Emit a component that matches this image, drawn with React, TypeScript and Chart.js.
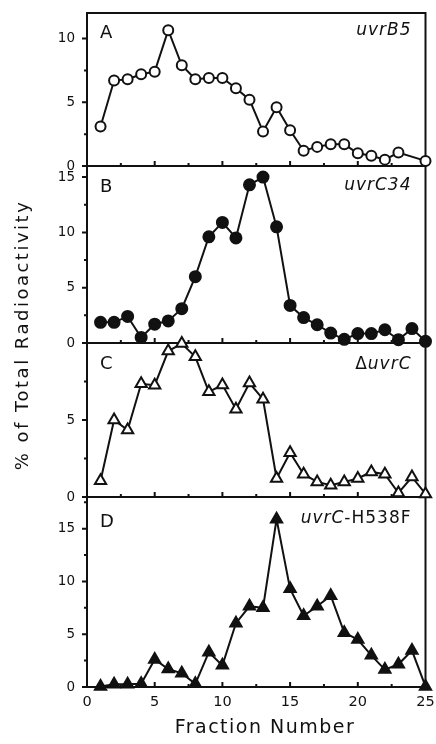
import React, { useEffect, useRef } from 'react';
import { Chart, registerables } from 'chart.js';

Chart.register(...registerables);

const FONT = '"DejaVu Sans", sans-serif';

// Fraction numbers (x axis)
const fractions = [1, 2, 3, 4, 5, 6, 7, 8, 9, 10, 11, 12, 13, 14, 15, 16, 17, 18, 19, 20, 21, 22, 23, 24, 25];
const xTickLabels = [0, 5, 10, 15, 20, 25];

// Panel A: uvrB5 (open circles) - fraction 24 not plotted
const uvrB5 = [3.1, 6.7, 6.8, 7.2, 7.4, 10.65, 7.9, 6.8, 6.9, 6.9, 6.1, 5.2, 2.7, 4.6, 2.8, 1.2, 1.5, 1.7, 1.7, 1.0, 0.8, 0.5, 1.05, null, 0.4];
// Panel B: uvrC34 (filled circles)
const uvrC34 = [1.87, 1.87, 2.4, 0.5, 1.7, 2.0, 3.1, 6.0, 9.6, 10.9, 9.5, 14.3, 15.0, 10.5, 3.4, 2.3, 1.65, 0.9, 0.33, 0.85, 0.85, 1.2, 0.3, 1.3, 0.15];
// Panel C: ΔuvrC (open triangles)
const deltaUvrC = [1.05, 5.0, 4.35, 7.35, 7.26, 9.48, 9.96, 9.1, 6.83, 7.28, 5.7, 7.4, 6.35, 1.2, 2.87, 1.48, 0.98, 0.76, 0.98, 1.2, 1.63, 1.48, 0.26, 1.3, 0.2];
// Panel D: uvrC-H538F (filled triangles)
const uvrCH538F = [0.05, 0.25, 0.25, 0.3, 2.6, 1.7, 1.3, 0.3, 3.3, 2.05, 6.05, 7.65, 7.5, 15.9, 9.3, 6.75, 7.65, 8.65, 5.15, 4.5, 3.0, 1.65, 2.15, 3.45, 0.05];

// y-axis ranges per panel
const yMaxA = 12;
const yMaxB = 16;
const yMaxC = 10;
const yMaxD = 18;
const yTickLabelsA = [0, 5, 10];
const yTickLabelsB = [0, 5, 10, 15];
const yTickLabelsC = [0, 5];
const yTickLabelsD = [0, 5, 10, 15];

const panelLetters = ['A', 'B', 'C', 'D'];

const INK = '#111';

type Seg = { t: string; i: boolean };

const panels = [
  { id: 'yA', max: yMaxA, labels: yTickLabelsA, letter: panelLetters[0], letterDy: 25, nameDy: 22, name: [{ t: 'uvrB5', i: true }] as Seg[] },
  { id: 'yB', max: yMaxB, labels: yTickLabelsB, letter: panelLetters[1], letterDy: 26, nameDy: 24, name: [{ t: 'uvrC34', i: true }] as Seg[] },
  { id: 'yC', max: yMaxC, labels: yTickLabelsC, letter: panelLetters[2], letterDy: 25.5, nameDy: 25.5, name: [{ t: 'Δ', i: false }, { t: 'uvrC', i: true }] as Seg[] },
  { id: 'yD', max: yMaxD, labels: yTickLabelsD, letter: panelLetters[3], letterDy: 30, nameDy: 25.5, name: [{ t: 'uvrC', i: true }, { t: '-H538F', i: false }] as Seg[] },
];

const stackWeights = [153, 177, 154, 190];

function toPoints(values: (number | null)[]) {
  return fractions.map((f, i) => ({ x: f, y: values[i] }));
}

const framePlugin = {
  id: 'frame',
  beforeDraw(chart: any) {
    const { ctx } = chart;
    ctx.save();
    ctx.fillStyle = '#fff';
    ctx.fillRect(0, 0, chart.width, chart.height);
    ctx.restore();
  },
  beforeDatasetsDraw(chart: any) {
    const { ctx, chartArea } = chart;
    const xs = chart.scales.x;
    ctx.save();
    ctx.strokeStyle = INK;
    ctx.lineWidth = 2;
    ctx.lineCap = 'butt';
    panels.forEach((p) => {
      const s = chart.scales[p.id];
      ctx.strokeRect(chartArea.left, s.top, chartArea.right - chartArea.left, s.bottom - s.top);
      ctx.beginPath();
      for (let v = 2.5; v < 25; v += 2.5) {
        const px = xs.getPixelForValue(v);
        const len = v % 5 === 0 ? 5 : 3;
        ctx.moveTo(px, s.bottom);
        ctx.lineTo(px, s.bottom - len);
      }
      for (let v = 0; v <= p.max + 0.001; v += 2.5) {
        const py = s.getPixelForValue(v);
        const len = v % 5 === 0 ? 5 : 3;
        ctx.moveTo(chartArea.left, py);
        ctx.lineTo(chartArea.left - len, py);
      }
      ctx.stroke();
    });
    ctx.restore();
  },
  afterDraw(chart: any) {
    const { ctx, chartArea } = chart;
    ctx.save();
    ctx.fillStyle = INK;
    panels.forEach((p) => {
      const s = chart.scales[p.id];
      ctx.letterSpacing = '0px';
      ctx.font = `18px ${FONT}`;
      ctx.textAlign = 'left';
      ctx.textBaseline = 'alphabetic';
      ctx.fillText(p.letter, chartArea.left + 13, s.top + p.letterDy);
      ctx.letterSpacing = '1px';
      const widths = p.name.map((seg) => {
        ctx.font = `${seg.i ? 'italic ' : ''}17px ${FONT}`;
        return ctx.measureText(seg.t).width;
      });
      const total = widths.reduce((a, b) => a + b, 0);
      let xx = chartArea.right - 14 - total;
      p.name.forEach((seg, i) => {
        ctx.font = `${seg.i ? 'italic ' : ''}17px ${FONT}`;
        ctx.fillText(seg.t, xx, s.top + p.nameDy);
        xx += widths[i];
      });
    });
    // y title
    ctx.save();
    ctx.translate(23, 335);
    ctx.rotate(-Math.PI / 2);
    ctx.font = `18px ${FONT}`;
    ctx.letterSpacing = '2.5px';
    ctx.textAlign = 'center';
    ctx.textBaseline = 'middle';
    ctx.fillText('% of Total Radioactivity', 0, 0);
    ctx.restore();
    // x title
    ctx.font = `19px ${FONT}`;
    ctx.letterSpacing = '1.5px';
    ctx.textAlign = 'center';
    ctx.textBaseline = 'middle';
    ctx.fillText('Fraction Number', 265, 728);
    ctx.restore();
  },
};

export default function App() {
  const ref = useRef<HTMLCanvasElement | null>(null);

  useEffect(() => {
    if (!ref.current) return;

    const lineBase = {
      borderColor: INK,
      borderWidth: 2,
      pointBorderColor: INK,
      pointBorderWidth: 2,
      tension: 0,
      spanGaps: true,
      clip: false as any,
    };

    const yScale = (p: any, idx: number) => ({
      type: 'linear',
      position: 'left',
      stack: 'panels',
      stackWeight: stackWeights[idx],
      weight: 4 - idx,
      offset: false,
      min: 0,
      max: p.max,
      grid: { display: false, drawTicks: false },
      border: { display: false },
      ticks: {
        stepSize: 2.5,
        includeBounds: false,
        autoSkip: false,
        padding: 12,
        color: INK,
        font: { family: FONT, size: 13.5 },
        callback: (v: number) => (p.labels.includes(v) ? String(v) : ''),
      },
      afterFit: (s: any) => {
        s.width = 87;
        s.paddingTop = 0;
        s.paddingBottom = 0;
      },
    });

    const chart = new Chart(ref.current, {
      type: 'line',
      data: {
        datasets: [
          {
            ...lineBase,
            label: 'uvrB5',
            data: toPoints(uvrB5),
            yAxisID: 'yA',
            pointStyle: 'circle',
            pointRadius: 5,
            pointBackgroundColor: '#fff',
          },
          {
            ...lineBase,
            label: 'uvrC34',
            data: toPoints(uvrC34),
            yAxisID: 'yB',
            pointStyle: 'circle',
            pointRadius: 5.5,
            pointBackgroundColor: INK,
          },
          {
            ...lineBase,
            label: 'ΔuvrC',
            data: toPoints(deltaUvrC),
            yAxisID: 'yC',
            pointStyle: 'triangle',
            pointRadius: 6.5,
            pointBackgroundColor: '#fff',
          },
          {
            ...lineBase,
            label: 'uvrC-H538F',
            data: toPoints(uvrCH538F),
            yAxisID: 'yD',
            pointStyle: 'triangle',
            pointRadius: 6.5,
            pointBackgroundColor: INK,
          },
        ] as any,
      },
      options: {
        animation: false,
        responsive: false,
        devicePixelRatio: 1,
        layout: { padding: { left: 0, right: 10.5, top: 13, bottom: 17 } },
        plugins: { legend: { display: false }, tooltip: { enabled: false } },
        scales: {
          x: {
            type: 'linear',
            position: 'bottom',
            min: 0,
            max: 25,
            grid: { display: false, drawTicks: false },
            border: { display: false },
            ticks: {
              stepSize: 2.5,
              autoSkip: false,
              maxRotation: 0,
              includeBounds: false,
              padding: 7,
              color: INK,
              font: { family: FONT, size: 14.5 },
              callback: (v: number) => (xTickLabels.includes(v) ? String(v) : ''),
            },
            afterFit: (s: any) => {
              s.height = 40;
              s.paddingLeft = 0;
              s.paddingRight = 0;
            },
          },
          yA: yScale(panels[0], 0),
          yB: yScale(panels[1], 1),
          yC: yScale(panels[2], 2),
          yD: yScale(panels[3], 3),
        } as any,
      },
      plugins: [framePlugin],
    });

    return () => chart.destroy();
  }, []);

  return (
    <div style={{ position: 'absolute', left: 0, top: 0, width: 436, height: 744 }}>
      <canvas ref={ref} width={436} height={744} style={{ display: 'block', width: 436, height: 744 }} />
    </div>
  );
}
